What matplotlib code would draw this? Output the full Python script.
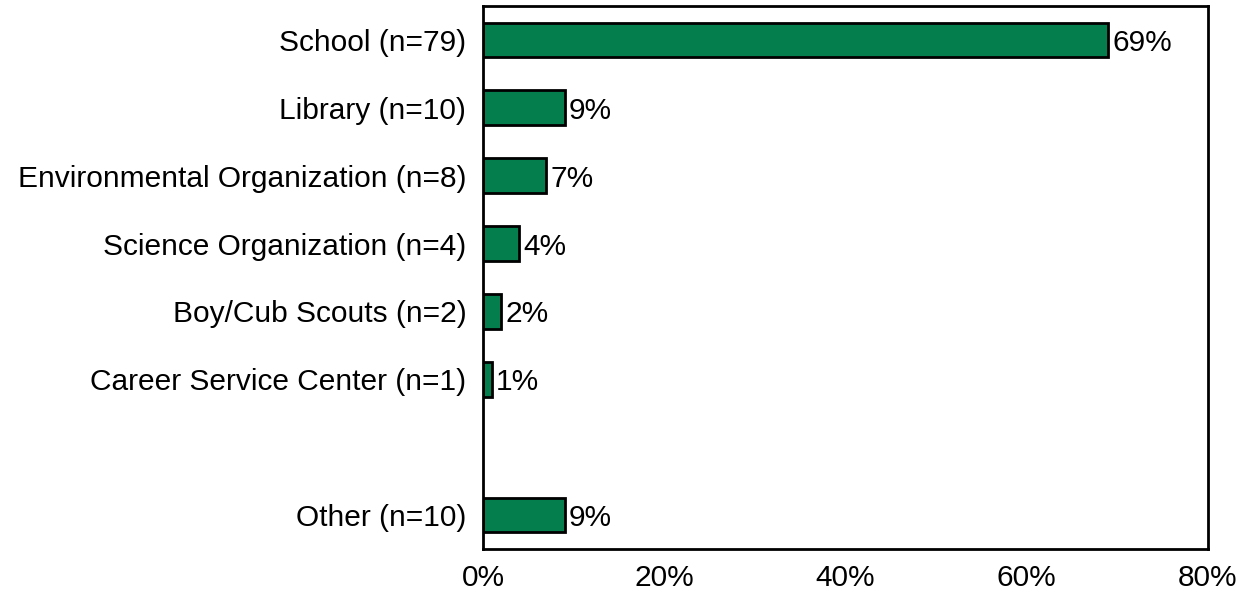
import matplotlib.pyplot as plt
import numpy as np

plt.rcParams['font.family'] = ['Liberation Sans', 'DejaVu Sans']

labels = ['School (n=79)', 'Library (n=10)', 'Environmental Organization (n=8)',
          'Science Organization (n=4)', 'Boy/Cub Scouts (n=2)',
          'Career Service Center (n=1)', 'Other (n=10)']
values = [69, 9, 7, 4, 2, 1, 9]
positions = [0, 1, 2, 3, 4, 5, 7]  # empty slot before "Other"
xticks = [0, 20, 40, 60, 80]

fig = plt.figure(figsize=(12.47, 5.92), dpi=100)
ax = fig.add_axes([0.3873, 0.0726, 0.9687 - 0.3873, 0.9899 - 0.0726])

ax.barh(positions, values, height=0.51, color='#047E4C', edgecolor='black', linewidth=2)
for p, v in zip(positions, values):
    ax.text(v + 0.45, p, f'{v}%', va='center_baseline', ha='left', fontsize=21.5)

ax.set_xlim(0, 80)
ax.set_ylim(7.5, -0.5)
ax.set_yticks(positions)
ax.set_yticklabels(labels, va='center_baseline')
ax.set_xticks(xticks)
ax.set_xticklabels([f'{t}%' for t in xticks])
ax.tick_params(axis='both', length=0, labelsize=21.5)
ax.tick_params(axis='y', pad=12)
ax.tick_params(axis='x', pad=11)
for s in ax.spines.values():
    s.set_linewidth(2)

fig.savefig('out.png', dpi=100)
